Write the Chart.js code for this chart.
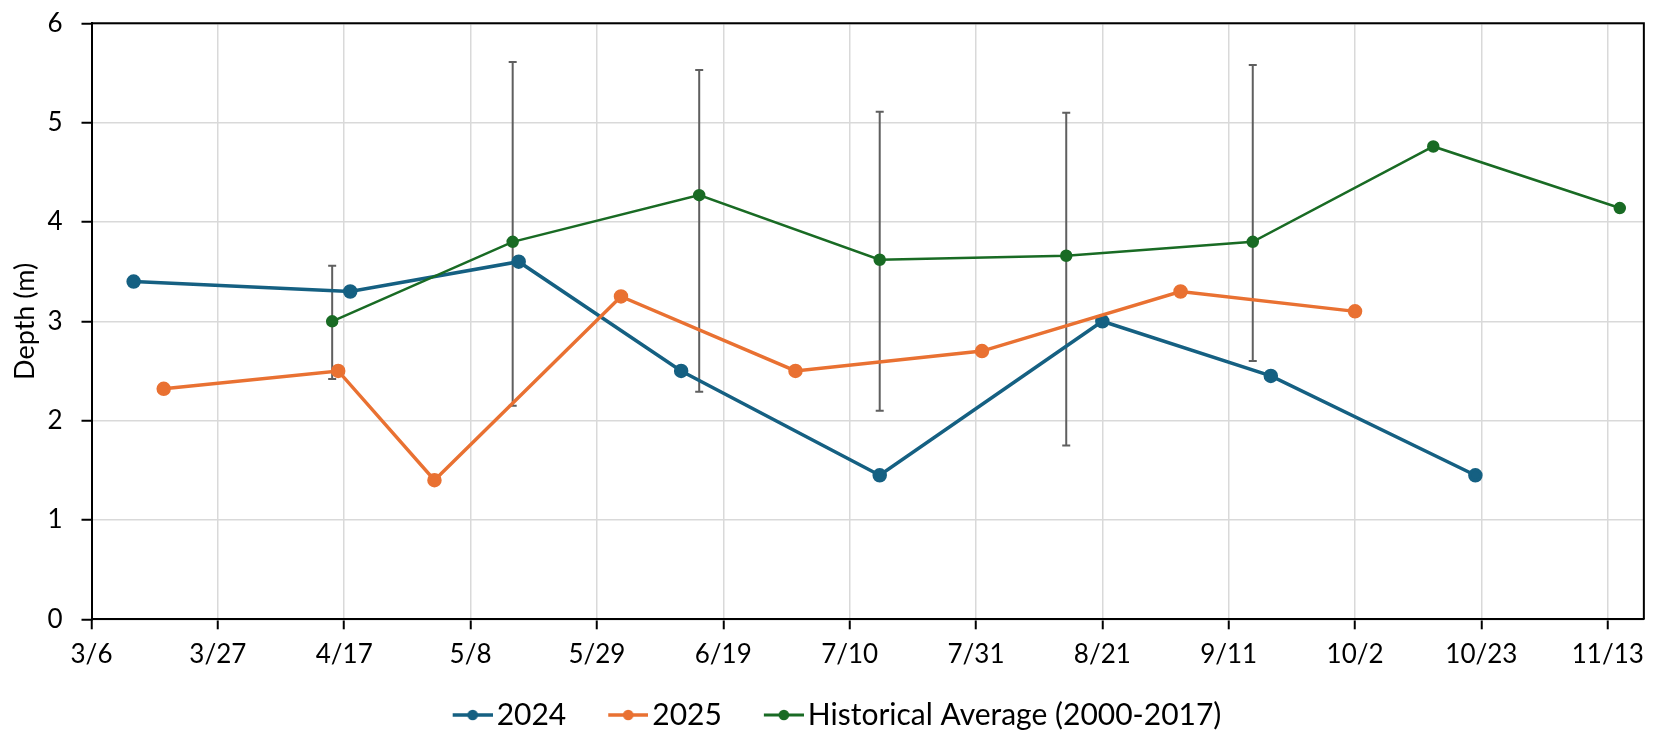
<!DOCTYPE html>
<html>
<head>
<meta charset="utf-8">
<script src="https://cdn.jsdelivr.net/npm/chart.js@4.4.1/dist/chart.umd.min.js"></script>
<style>
  html, body { margin: 0; padding: 0; background: #fff; }
  #wrap { width: 1654px; height: 730px; }
</style>
</head>
<body>
<div id="wrap"><canvas id="depthChart"></canvas></div>
<script>
// sampling dates (month/day) and depths
const dates2024 = ['3/13', '4/18', '5/16', '6/12', '7/15', '8/21', '9/18', '10/22'];
const depth2024 = [3.4, 3.3, 3.6, 2.5, 1.45, 3.0, 2.45, 1.45];

const dates2025 = ['3/18', '4/16', '5/2', '6/2', '7/1', '8/1', '9/3', '10/2'];
const depth2025 = [2.32, 2.5, 1.4, 3.25, 2.5, 2.7, 3.3, 3.1];

const datesHist = ['4/15', '5/15', '6/15', '7/15', '8/15', '9/15', '10/15', '11/15'];
const depthHist = [3.0, 3.8, 4.27, 3.62, 3.66, 3.8, 4.76, 4.14];
const histLow = [2.42, 2.15, 2.29, 2.10, 1.75, 2.60, null, null];
const histHigh = [3.56, 5.61, 5.53, 5.11, 5.10, 5.58, null, null];

const tickLabels = ['3/6', '3/27', '4/17', '5/8', '5/29', '6/19', '7/10', '7/31', '8/21', '9/11', '10/2', '10/23', '11/13'];
const axisStart = '3/6';
const axisEnd = '11/19';
const yTitle = 'Depth (m)';

const monthStart = [0, 31, 59, 90, 120, 151, 181, 212, 243, 273, 304, 334];
function dayOfYear(md) {
    const parts = md.split('/');
    return monthStart[parseInt(parts[0]) - 1] + parseInt(parts[1]);
}

function toPoints(dates, values) {
    return dates.map((d, i) => ({ x: dayOfYear(d), y: values[i] }));
}

const blue = '#156082';
const orange = '#E97132';
const green = '#196B24';
const font = 'Lato';

// legend swatch: line with a dot, drawn in the right 40px of a wider box
function legendMarker(color, lineW) {
    const c = document.createElement('canvas');
    c.width = 83;
    c.height = 14;
    const g = c.getContext('2d');
    g.strokeStyle = color;
    g.lineWidth = lineW;
    g.beginPath();
    g.moveTo(43, 7);
    g.lineTo(83, 7);
    g.stroke();
    g.fillStyle = color;
    g.beginPath();
    g.arc(63, 7, 5.3, 0, Math.PI * 2);
    g.fill();
    return c;
}

const errorBars = {
    id: 'errorBars',
    beforeDatasetsDraw(chart) {
        const ctx = chart.ctx;
        const xs = chart.scales.x;
        const ys = chart.scales.y;
        ctx.save();
        ctx.strokeStyle = '#5f5f5f';
        ctx.lineWidth = 2;
        datesHist.forEach((d, i) => {
            if (histLow[i] === null) return;
            const px = xs.getPixelForValue(dayOfYear(d));
            const top = ys.getPixelForValue(histHigh[i]);
            const bot = ys.getPixelForValue(histLow[i]);
            ctx.beginPath();
            ctx.moveTo(px, top);
            ctx.lineTo(px, bot);
            ctx.moveTo(px - 4, top);
            ctx.lineTo(px + 4, top);
            ctx.moveTo(px - 4, bot);
            ctx.lineTo(px + 4, bot);
            ctx.stroke();
        });
        ctx.restore();
    }
};

const frame = {
    id: 'frame',
    afterLayout(chart) {
        // nudge the legend to where it sits in the original
        const lg = chart.legend;
        lg.left -= 3;
        lg.right -= 3;
        lg.top += 10;
        lg.bottom += 10;
    },
    afterDraw(chart) {
        const a = chart.chartArea;
        const ctx = chart.ctx;
        ctx.save();
        ctx.strokeStyle = '#000';
        ctx.lineWidth = 2;
        ctx.beginPath();
        ctx.moveTo(a.left, a.top);
        ctx.lineTo(a.right, a.top);
        ctx.lineTo(a.right, a.bottom);
        ctx.stroke();
        // y axis title
        ctx.translate(25, (a.top + a.bottom) / 2);
        ctx.rotate(-Math.PI / 2);
        ctx.fillStyle = '#000';
        ctx.font = '27px ' + font;
        ctx.textAlign = 'center';
        ctx.textBaseline = 'middle';
        ctx.fillText(yTitle, 0, 0);
        ctx.restore();
    }
};

const ctx = document.getElementById('depthChart').getContext('2d');
new Chart(ctx, {
    type: 'line',
    data: {
        datasets: [
            {
                label: '2024',
                data: toPoints(dates2024, depth2024),
                borderColor: blue,
                backgroundColor: blue,
                borderWidth: 3.5,
                pointRadius: 5.5,
                pointHoverRadius: 5.5,
                order: 2
            },
            {
                label: '2025',
                data: toPoints(dates2025, depth2025),
                borderColor: orange,
                backgroundColor: orange,
                borderWidth: 3.5,
                pointRadius: 5.5,
                pointHoverRadius: 5.5,
                order: 1
            },
            {
                label: 'Historical Average (2000-2017)',
                data: toPoints(datesHist, depthHist),
                borderColor: green,
                backgroundColor: green,
                borderWidth: 2.5,
                pointRadius: 5,
                pointHoverRadius: 5,
                order: 0
            }
        ]
    },
    options: {
        responsive: true,
        maintainAspectRatio: false,
        animation: false,
        layout: {
            padding: { top: 23.3, left: 0, right: 6, bottom: 0 }
        },
        scales: {
            x: {
                type: 'linear',
                min: dayOfYear(axisStart),
                max: dayOfYear(axisEnd),
                afterBuildTicks: function(scale) {
                    scale.ticks = tickLabels.map(t => ({ value: dayOfYear(t) }));
                },
                afterFit: function(scale) {
                    scale.height = 60.7;
                },
                ticks: {
                    autoSkip: false,
                    maxRotation: 0,
                    padding: 10,
                    color: '#000',
                    font: { family: font, size: 26 },
                    callback: function(value) {
                        const i = tickLabels.findIndex(t => dayOfYear(t) === value);
                        return i >= 0 ? tickLabels[i] : '';
                    }
                },
                grid: {
                    color: '#d9d9d9',
                    lineWidth: 1.5,
                    tickColor: '#000',
                    tickLength: 10,
                    tickWidth: 2
                },
                border: { color: '#000', width: 2 }
            },
            y: {
                min: 0,
                max: 6,
                afterFit: function(scale) {
                    scale.width = 91.5;
                    scale.paddingTop = 0;
                    scale.paddingBottom = 0;
                },
                ticks: {
                    stepSize: 1,
                    padding: 19,
                    color: '#000',
                    font: { family: font, size: 26 }
                },
                grid: {
                    color: '#d9d9d9',
                    lineWidth: 1.5,
                    tickColor: '#000',
                    tickLength: 10,
                    tickWidth: 2
                },
                border: { color: '#000', width: 2 }
            }
        },
        plugins: {
            legend: {
                position: 'bottom',
                labels: {
                    usePointStyle: true,
                    pointStyleWidth: 61,
                    padding: 10,
                    color: '#000',
                    font: { family: font, size: 30 },
                    generateLabels: function(chart) {
                        const widths = [3.3, 3.3, 3];
                        return chart.data.datasets.map((ds, i) => ({
                            text: ds.label,
                            datasetIndex: i,
                            pointStyle: legendMarker(ds.borderColor, widths[i]),
                            fillStyle: ds.borderColor,
                            strokeStyle: ds.borderColor,
                            lineWidth: 0,
                            fontColor: '#000',
                            hidden: false
                        }));
                    }
                }
            },
            tooltip: { enabled: false }
        }
    },
    plugins: [errorBars, frame]
});
</script>
</body>
</html>
